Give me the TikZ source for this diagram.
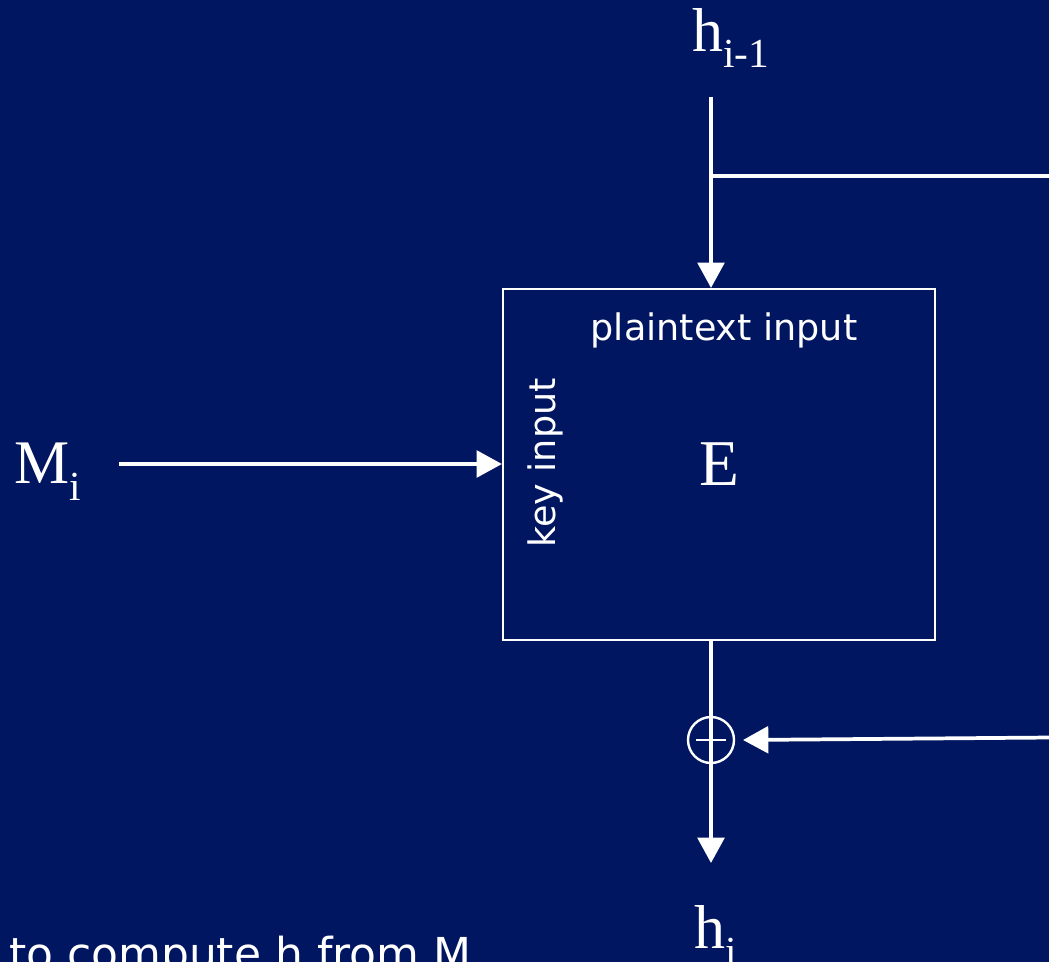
\documentclass[tikz,border=0pt]{standalone}
\usepackage{fontspec}
\setmainfont{Liberation Serif}
\newfontfamily\vsans{DejaVu Sans}
\usetikzlibrary{arrows.meta}
\definecolor{slidebg}{RGB}{0,22,96}
\newcommand{\serifbig}{\fontsize{46.5}{50}\selectfont}
\newcommand{\serifsub}{\fontsize{31}{34}\selectfont}
\begin{document}
\begin{tikzpicture}[x=0.75pt,y=-0.75pt,
  wire/.style={white,line width=2.8pt},
  arr/.style={wire,-{Triangle[length=19pt,width=20pt]}},
  lbl/.style={text=white,inner sep=0pt,outer sep=0pt},
  sanslbl/.style={lbl,font=\vsans\fontsize{27.4}{32}\selectfont},
  blockbox/.style={draw=white,line width=1.6pt,text=white,minimum width=324pt,minimum height=263.25pt,inner sep=0pt,font=\fontsize{49}{52}\selectfont},
  xorc/.style={draw=white,line width=1.8pt,circle,minimum size=34.5pt,inner sep=0pt}]
\useasboundingbox (0,0) rectangle (1049,962);
\fill[slidebg] (0,0) rectangle (1049,962);
\clip (0,0) rectangle (1049,962);

% block
\node[blockbox] (box) at (719,464.5) {E};
\node[sanslbl,anchor=base] (pt) at (724,341) {plaintext input};
\node[sanslbl,anchor=base,rotate=90] (key) at (555,463) {key input};

% labels
\node[lbl,anchor=base west] (hprev) at (692,52) {\serifbig h\raisebox{-12pt}{\serifsub i-1}};
\node[lbl,anchor=base west] (mi) at (14,483) {\serifbig M\raisebox{-13pt}{\serifsub i}};
\node[lbl,anchor=base west] (hi) at (694,948) {\serifbig h\raisebox{-13pt}{\serifsub i}};
\node[lbl,anchor=base west,font=\vsans\fontsize{33}{38}\selectfont] (note) at (9,969) {to compute h from M};

% xor
\node[xorc] (xor) at (711,740) {};
\draw[white,line width=2.2pt] ([xshift=-11.25pt]xor.center) -- ([xshift=11.25pt]xor.center);

% coordinates
\coordinate (top) at (711,97);
\coordinate (br) at (711,176);
\coordinate (brR) at (1052,176);
\coordinate (mstart) at (119,464);
\coordinate (fbR) at (1052,737.5);
\coordinate (fbtip) at (743,740);
\coordinate (outtip) at (711,863);

% connectors
\draw[arr] (top) -- (top |- box.north);
\draw[wire] (br) -- (brR);
\draw[arr] (mstart) -- (mstart -| box.west);
\draw[arr] (top |- box.south) -- (outtip);
\draw[arr] (fbR) -- (fbtip);
\end{tikzpicture}
\end{document}
